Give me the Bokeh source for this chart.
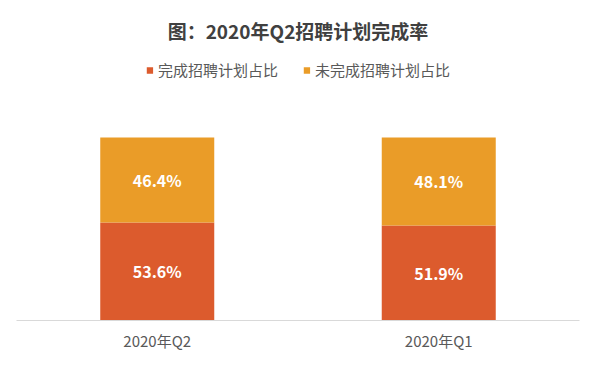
from bokeh.plotting import figure
from bokeh.models import ColumnDataSource, Legend, LegendItem, Range1d
from bokeh.core.properties import value
from bokeh.embed import file_html
from bokeh.resources import INLINE

categories = ["2020年Q2", "2020年Q1"]
completed = [53.6, 51.9]
uncompleted = [46.4, 48.1]
series_names = ["完成招聘计划占比", "未完成招聘计划占比"]
title_text = "图：2020年Q2招聘计划完成率"

FONT = "Noto Sans CJK SC"
RED = "#DC5B2D"
ORANGE = "#EA9C28"

src = ColumnDataSource(dict(cat=categories, completed=completed, uncompleted=uncompleted))

p = figure(x_range=categories, y_range=Range1d(0, 148.6), width=584, height=353,
           output_backend="svg", toolbar_location=None,
           min_border_left=16, min_border_right=5, min_border_top=48, min_border_bottom=33)
p.x_range.range_padding = 0

rs = p.vbar_stack(["completed", "uncompleted"], x="cat", width=0.405, color=[RED, ORANGE],
                  line_color=None, source=src)

# value labels
lab_x = categories + categories
lab_y = [c / 2 for c in completed] + [c + u / 2 for c, u in zip(completed, uncompleted)]
lab_t = [f"{v:.1f}%" for v in completed] + [f"{v:.1f}%" for v in uncompleted]
lsrc = ColumnDataSource(dict(x=lab_x, y=lab_y, t=lab_t))
p.text(x="x", y="y", text="t", source=lsrc, text_align="center", text_baseline="middle",
       text_color="white", text_font=value(FONT), text_font_size="16px", text_font_style="bold")

legend = Legend(items=[LegendItem(label=series_names[0], renderers=[rs[0]]),
                       LegendItem(label=series_names[1], renderers=[rs[1]])],
                orientation="horizontal", location="top_center",
                label_text_font=FONT, label_text_font_size="15px", label_text_color="#595959",
                glyph_width=8, glyph_height=8, label_standoff=5, spacing=24,
                padding=0, margin=11, border_line_color=None, background_fill_alpha=0,
                label_height=16)
p.add_layout(legend)

p.title.text = title_text
p.title.align = "center"
p.title.text_font = FONT
p.title.text_font_size = "19px"
p.title.text_font_style = "bold"
p.title.text_color = "#404040"

p.yaxis.visible = False
p.xgrid.grid_line_color = None
p.ygrid.grid_line_color = None
p.outline_line_color = None
p.xaxis.axis_line_color = "#D9D9D9"
p.xaxis.major_tick_line_color = None
p.xaxis.minor_tick_line_color = None
p.xaxis.major_label_text_font = FONT
p.xaxis.major_label_text_font_size = "15px"
p.xaxis.major_label_text_color = "#595959"
p.xaxis.major_label_standoff = 3

open("out.html", "w").write(file_html(p, INLINE))
